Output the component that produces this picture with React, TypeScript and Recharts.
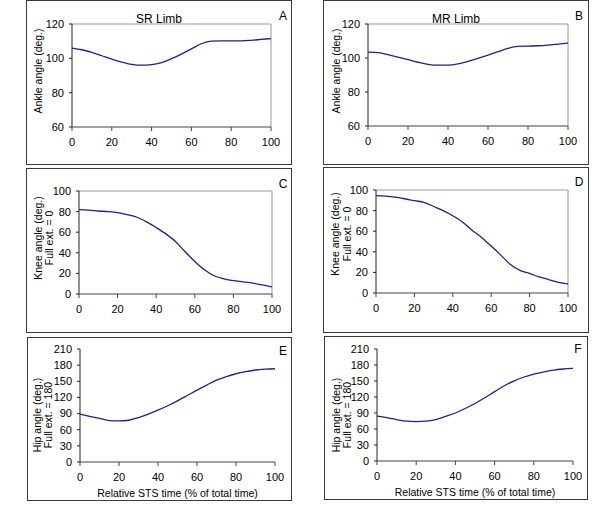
import { LineChart, Line, XAxis, YAxis, ReferenceLine } from "recharts";

const time = [0, 5, 10, 15, 20, 25, 30, 35, 40, 45, 50, 55, 60, 65, 70, 75, 80, 85, 90, 95, 100];

const srAnkle = [106, 105, 103.5, 101.5, 99.5, 97.8, 96.5, 96, 96.3, 97.5, 99.8, 102.5, 105.5, 108.5, 110, 110.2, 110.2, 110.2, 110.5, 111, 111.5];
const mrAnkle = [103.5, 103.2, 102, 100.5, 99, 97.5, 96.3, 95.8, 95.8, 96.5, 98, 99.8, 101.7, 103.7, 105.7, 106.8, 107, 107.2, 107.6, 108.2, 108.8];
const srKnee = [82, 81.5, 80.6, 80, 79, 77, 74.5, 70, 64.5, 58.4, 51, 41, 31.6, 23.5, 17.7, 14.8, 12.9, 11.8, 10.6, 8.8, 7];
const mrKnee = [94.5, 94, 93, 91.5, 89.6, 88, 84, 80, 75, 69, 61, 54, 45.6, 36.8, 27.7, 22, 19, 15.6, 13, 10.4, 8.8];
const srHip = [89, 85, 81, 77, 76.4, 77.6, 82.6, 89, 96.3, 104.5, 113.7, 123.5, 133.5, 143, 152, 158.5, 164, 168, 171, 172.5, 173.3];
const mrHip = [84, 81.5, 77.7, 74.6, 74, 74.6, 77.7, 83.5, 90, 98.5, 107.8, 118.5, 130, 141, 150.4, 157.5, 163, 167, 170.5, 172.5, 173.6];

const xTicks = [0, 20, 40, 60, 80, 100];
const ankleTicks = [60, 80, 100, 120];
const kneeTicks = [0, 20, 40, 60, 80, 100];
const hipTicks = [0, 30, 60, 90, 120, 150, 180, 210];

const ankleTitle = ["Ankle angle (deg.)"];
const kneeTitle = ["Knee angle (deg.)", "Full ext. = 0"];
const hipTitle = ["Hip angle (deg.)", "Full ext. = 180"];
const xTitle = "Relative STS time (% of total time)";

const FONT = "'Liberation Sans', Arial, sans-serif";
const LINE = "#1e1e9e";

type Panel = {
  letter: string;
  title?: string;
  values: number[];
  yTicks: number[];
  yTitle: string[];
  box: { x: number; y: number; w: number; h: number };
  plot: { l: number; r: number; t: number; b: number };
  yTitleX: number[];
  yTitleY: number;
  letterPos: [number, number];
  titlePos?: [number, number];
  frame: boolean;
  xLabel: boolean;
};

const panels: Panel[] = [
  {
    letter: "A", title: "SR Limb", values: srAnkle, yTicks: ankleTicks, yTitle: ankleTitle,
    box: { x: 26, y: 0, w: 266, h: 165 }, plot: { l: 72, r: 271, t: 24, b: 127 },
    yTitleX: [38], yTitleY: 71, letterPos: [282, 15], titlePos: [158, 18], frame: true, xLabel: false,
  },
  {
    letter: "B", title: "MR Limb", values: mrAnkle, yTicks: ankleTicks, yTitle: ankleTitle,
    box: { x: 323, y: 0, w: 266, h: 165 }, plot: { l: 368, r: 568, t: 24, b: 126 },
    yTitleX: [336], yTitleY: 71, letterPos: [578, 15], titlePos: [455, 18], frame: true, xLabel: false,
  },
  {
    letter: "C", values: srKnee, yTicks: kneeTicks, yTitle: kneeTitle,
    box: { x: 26, y: 168, w: 266, h: 165 }, plot: { l: 79, r: 272, t: 191, b: 294 },
    yTitleX: [38, 49], yTitleY: 238, letterPos: [282, 183], frame: true, xLabel: false,
  },
  {
    letter: "D", values: mrKnee, yTicks: kneeTicks, yTitle: kneeTitle,
    box: { x: 323, y: 167, w: 266, h: 166 }, plot: { l: 376, r: 568, t: 190, b: 293 },
    yTitleX: [335, 347], yTitleY: 234, letterPos: [578, 181], frame: true, xLabel: false,
  },
  {
    letter: "E", values: srHip, yTicks: hipTicks, yTitle: hipTitle,
    box: { x: 27, y: 337, w: 265, h: 164 }, plot: { l: 80, r: 275, t: 349, b: 462 },
    yTitleX: [37, 48], yTitleY: 415, letterPos: [282, 350], frame: false, xLabel: true,
  },
  {
    letter: "F", values: mrHip, yTicks: hipTicks, yTitle: hipTitle,
    box: { x: 324, y: 336, w: 264, h: 164 }, plot: { l: 377, r: 573, t: 349, b: 461 },
    yTitleX: [336, 347], yTitleY: 415, letterPos: [577, 348], frame: false, xLabel: true,
  },
];

function PanelChart({ p }: { p: Panel }) {
  const ox = p.box.x + 1;
  const oy = p.box.y + 1;
  const cw = p.box.w - 2;
  const ch = p.box.h - 2;
  const xAxisH = p.xLabel ? 34 : 22;
  const yAxisW = p.plot.l - ox;
  const data = time.map((t, i) => ({ t, v: p.values[i] }));
  const yMin = p.yTicks[0];
  const yMax = p.yTicks[p.yTicks.length - 1];

  const yTitleContent = () => (
    <g>
      {p.yTitle.map((line, i) => {
        const x = p.yTitleX[i] - ox;
        const y = p.yTitleY - oy;
        return (
          <text
            key={line}
            x={x}
            y={y}
            transform={`rotate(-90, ${x}, ${y})`}
            textAnchor="middle"
            dominantBaseline="central"
            fontSize={10.5}
            fill="#000"
            fontFamily={FONT}
          >
            {line}
          </text>
        );
      })}
    </g>
  );

  const xTitleContent = () => (
    <text
      x={(p.plot.l + p.plot.r) / 2 - ox}
      y={p.plot.b + 31 - oy}
      textAnchor="middle"
      dominantBaseline="central"
      fontSize={10.5}
      fill="#000"
      fontFamily={FONT}
    >
      {xTitle}
    </text>
  );

  return (
    <div
      style={{
        position: "absolute",
        left: p.box.x,
        top: p.box.y,
        width: p.box.w,
        height: p.box.h,
        boxSizing: "border-box",
        border: "1px solid #3a3a3a",
      }}
    >
      <LineChart
        width={cw}
        height={ch}
        data={data}
        margin={{
          top: p.plot.t - oy,
          left: 0,
          right: ox + cw - p.plot.r,
          bottom: oy + ch - p.plot.b - xAxisH,
        }}
        style={{ fontFamily: FONT }}
      >
        <XAxis
          dataKey="t"
          type="number"
          domain={[0, 100]}
          ticks={xTicks}
          height={xAxisH}
          tickSize={4}
          tickMargin={7}
          stroke="#444"
          tick={{ fill: "#000", fontSize: 11 }}
          label={p.xLabel ? { content: xTitleContent } : undefined}
        />
        <YAxis
          type="number"
          domain={[yMin, yMax]}
          ticks={p.yTicks}
          width={yAxisW}
          tickSize={3}
          tickMargin={5}
          stroke="#222"
          interval={0}
          tick={{ fill: "#000", fontSize: 11 }}
          label={{ content: yTitleContent }}
        />
        {p.frame && <ReferenceLine y={yMax} stroke="#999" strokeWidth={1} />}
        {p.frame && <ReferenceLine x={100} stroke="#999" strokeWidth={1} />}
        <Line
          type="monotone"
          dataKey="v"
          stroke={LINE}
          strokeWidth={1.3}
          dot={false}
          isAnimationActive={false}
        />
      </LineChart>
      {p.title && (
        <div
          style={{
            position: "absolute",
            left: p.titlePos![0] - p.box.x,
            top: p.titlePos![1] - p.box.y,
            transform: "translate(-50%, -50%)",
            fontSize: 12,
            whiteSpace: "nowrap",
          }}
        >
          {p.title}
        </div>
      )}
      <div
        style={{
          position: "absolute",
          left: p.letterPos[0] - p.box.x,
          top: p.letterPos[1] - p.box.y,
          transform: "translate(-50%, -50%)",
          fontSize: 12,
        }}
      >
        {p.letter}
      </div>
    </div>
  );
}

export default function App() {
  return (
    <div
      style={{
        position: "absolute",
        left: 0,
        top: 0,
        width: 600,
        height: 518,
        background: "#fff",
        fontFamily: FONT,
        color: "#000",
      }}
    >
      {panels.map((p) => (
        <PanelChart key={p.letter} p={p} />
      ))}
    </div>
  );
}
